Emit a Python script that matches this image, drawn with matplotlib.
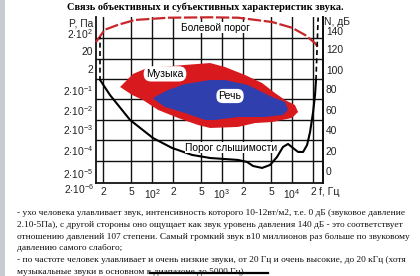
import matplotlib.pyplot as plt
from matplotlib.lines import Line2D
from matplotlib.patches import Rectangle
from matplotlib.ticker import NullLocator
import matplotlib.transforms as mtransforms

plt.rcParams['font.family'] = ['Liberation Sans', 'DejaVu Sans']
plt.rcParams['mathtext.default'] = 'regular'

W, H = 420, 276

# частотная ось
x_ticks = [20, 50, 100, 200, 500, 1000, 2000, 5000, 10000, 20000]
x_tick_labels = ['2', '5', '$10^2$', '2', '5', '$10^3$', '2', '5', '$10^4$', '2']
# уровни, дБ (подписи стоят между линиями сетки)
db_label_pos = [0, 20, 40, 60, 80, 99, 119, 137]
db_tick_labels = ['0', '20', '40', '60', '80', '100', '120', '140']
p_label_pos = [-2, 20.5, 41, 60, 79, 100, 117.5, 135]
p_tick_labels = ['$2{\\cdot}10^{-5}$', '$2{\\cdot}10^{-4}$', '$2{\\cdot}10^{-3}$', '$2{\\cdot}10^{-2}$',
                 '$2{\\cdot}10^{-1}$', '2', '20', '$2{\\cdot}10^{2}$']
grid_db = [10, 30, 50, 70, 90, 110, 130]

# болевой порог
pain_f = [15.8, 21, 33, 57, 170, 675, 1700, 5200, 10000, 15300, 21300, 23600]
pain_db = [126, 138, 143, 147.6, 149.8, 150.2, 149.8, 145.6, 140, 133, 125, 121]

# порог слышимости
hear_f = [18.5, 25, 48.5, 103, 193, 373, 674, 1690, 2280, 2770, 3730, 4850, 6100, 7430,
          8770, 10300, 12200, 14400, 16400, 18100, 20000, 21300, 22000]
hear_db = [88, 74.4, 50, 32.4, 22.7, 15.9, 12.9, 11, 9, 5.1, 3.2, 6.1, 13.9, 23.7,
           26.6, 22.7, 18.8, 18.8, 25.6, 38.3, 57.8, 74.4, 89]
hear_left_f = [18, 18]
hear_left_db = [88, 131]
hear_right_f = [22000, 23600]
hear_right_db = [89, 150]

# область музыки
music_f = [34.9, 53.5, 85, 296, 674, 1100, 2130, 3730, 5710, 7940, 11000, 12200,
           10000, 5180, 2960, 1690, 674, 454, 235, 122, 74, 52]
music_db = [82.2, 95, 100.7, 103.7, 105.6, 101.7, 93.9, 86.1, 76.3, 69.5, 64.6, 57.8,
            52, 48, 47, 43.2, 42.2, 45.1, 52, 59.8, 69.5, 74.4]

# область речи
speech_f = [103, 169, 296, 674, 1100, 2350, 5180, 7940, 8770, 7430, 4110, 1690, 795, 571, 296, 153, 110]
speech_db = [71.5, 79.3, 85.1, 89, 89, 84.1, 72.4, 67.6, 59.8, 54.9, 52.9, 52.9, 50, 50, 56.8, 62.7, 69.5]

title = 'Связь объективных и субъективных характеристик звука.'
text_lines = [
    "- ухо человека улавливает звук, интенсивность которого 10-12вт/м2, т.е. 0 дБ (звуковое давление",
    "2.10-5Па), с другой стороны оно ощущает как звук уровень давления 140 дБ - это соответствует",
    "отношению давлений 107 степени. Самый громкий звук в10 миллионов раз больше по звуковому",
    "давлению самого слабого;",
    "- по частоте человек улавливает и очень низкие звуки, от 20 Гц и очень высокие, до 20 кГц (хотя",
    "музыкальные звуки в основном в диапазоне до 5000 Гц).",
]

fig = plt.figure(figsize=(W / 100, H / 100), dpi=100)
fig.patch.set_facecolor('white')
renderer = fig.canvas.get_renderer()


def fit_width(t, width_px):
    # подгоняем размер шрифта под ширину строки на картинке
    w = t.get_window_extent(renderer).width
    t.set_fontsize(t.get_fontsize() * width_px / w)


# серая полоска слева
fig.patches.append(Rectangle((0, 0), 5 / W, 1, transform=fig.transFigure,
                             facecolor='#c7cbd2', edgecolor='none'))

ax = fig.add_axes([96 / W, 93 / H, 227 / W, 166 / H])
ax.set_xscale('log')
ax.set_xlim(15.8, 27700)
ax.set_ylim(-11.5, 150.5)

ax.set_xticks(x_ticks)
ax.set_xticklabels(x_tick_labels)
ax.xaxis.set_minor_locator(NullLocator())
ax.set_yticks(p_label_pos)
ax.set_yticklabels(p_tick_labels)
ax.set_yticks(grid_db, minor=True)
ax.tick_params(axis='both', which='both', length=0, labelsize=7.4, colors='#222222')
ax.tick_params(axis='x', pad=3)
ax.tick_params(axis='y', pad=2)

ax.grid(axis='x', which='major', color='#111111', lw=1.0)
ax.grid(axis='y', which='minor', color='#111111', lw=1.0)
ax.set_axisbelow(True)

for side in ['left', 'right', 'bottom']:
    ax.spines[side].set_linewidth(1.3)
    ax.spines[side].set_color('#111111')
ax.spines['top'].set_visible(False)

sec = ax.secondary_yaxis('right')
sec.set_yticks(db_label_pos)
sec.set_yticklabels(db_tick_labels)
sec.tick_params(length=0, labelsize=7.4, pad=2, colors='#222222')
sec.spines['right'].set_linewidth(1.3)

# области
ax.fill(music_f, music_db, color='#d81a1f', lw=0, zorder=2)
ax.fill(speech_f, speech_db, color='#2f3fae', lw=0, zorder=3)

# кривые
ax.plot(pain_f, pain_db, color='#c8262a', lw=1.6, dashes=(6, 1.2), zorder=4, clip_on=False)
ax.plot(hear_f, hear_db, color='black', lw=1.5, zorder=4)
ax.plot(hear_left_f, hear_left_db, color='black', lw=1.2, ls=(0, (3, 2)), zorder=4)
ax.plot(hear_right_f, hear_right_db, color='black', lw=1.2, ls=(0, (3, 2)), zorder=4)

# подписи
ax.text(153, 95, 'Музыка', ha='center', va='center', fontsize=7.6, zorder=5,
        bbox=dict(boxstyle='round,pad=0.25,rounding_size=0.7', facecolor='white', edgecolor='none'))
ax.text(1300, 73.4, 'Речь', ha='center', va='center', fontsize=7.6, zorder=5,
        bbox=dict(boxstyle='round,pad=0.2,rounding_size=0.6', facecolor='white', edgecolor='none'))
ax.text(794, 139.8, 'Болевой порог', ha='center', va='center', fontsize=7.3, zorder=5,
        bbox=dict(boxstyle='square,pad=0.05', facecolor='white', edgecolor='none'))
ax.text(296, 22.7, 'Порог слышимости', ha='left', va='center', fontsize=7.4, zorder=5,
        bbox=dict(boxstyle='square,pad=0.05', facecolor='white', edgecolor='none'))

blend_l = mtransforms.blended_transform_factory(ax.transAxes, ax.transData)
ax.text(-0.01, -17.5, '$2{\\cdot}10^{-6}$', transform=blend_l, ha='right', va='center',
        fontsize=7.4, color='#222222', clip_on=False)
ax.text(-0.01, 1.0 - 6 / 166, 'P, Па', transform=ax.transAxes, ha='right', va='center',
        fontsize=7.4, color='#222222')
ax.text(1.005, 1.0 - 5 / 166, 'N, дБ', transform=ax.transAxes, ha='left', va='center',
        fontsize=7.4, color='#222222')
ax.text(1.0 - 4 / 227, -9 / 166, 'f, Гц', transform=ax.transAxes, ha='left', va='center',
        fontsize=7.6, color='#222222')

# заголовок
t = fig.text(205 / W, 1 - 7 / H, title, ha='center', va='center', fontsize=8,
             fontweight='bold', family='Liberation Serif')
fit_width(t, 276)

# текст под графиком
for i, line in enumerate(text_lines):
    t = fig.text(17 / W, 1 - (213 + i * 11.8) / H, line, ha='left', va='center',
                 fontsize=7, family='Liberation Serif', color='#111111')
    if i == 0:
        fit_width(t, 388)
        body_size = t.get_fontsize()
    else:
        t.set_fontsize(body_size)

# зачёркивание
fig.lines.append(Line2D([150 / W, 268 / W], [1 - 273 / H, 1 - 273 / H],
                        transform=fig.transFigure, color='black', lw=1.6))

fig.savefig('out.png', dpi=100)
